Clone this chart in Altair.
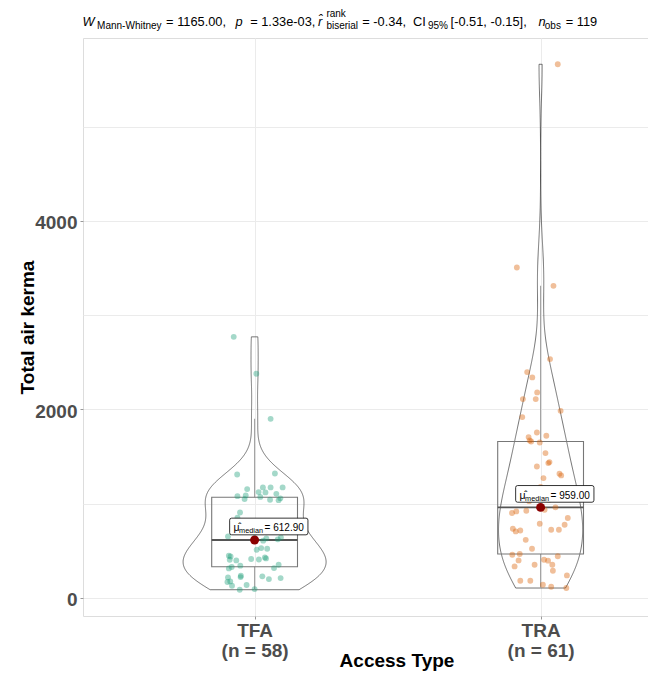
import altair as alt
import numpy as np
import pandas as pd

# ---------------- data ----------------
groups = ["TFA", "TRA"]
group_colors = ["#1B9E77", "#D95F02"]

tfa_values = [85, 92, 127, 135, 167, 173, 198, 209, 216, 219,
              227, 233, 311, 315, 326, 340, 350, 396, 403, 406,
              411, 417, 428, 438, 446, 509, 520, 527, 605.8, 620,
              630, 640, 651, 690, 720, 760, 800, 850, 905, 1036,
              1040, 1047, 1055, 1070, 1078, 1086, 1103, 1118, 1121, 1153,
              1171, 1171, 1171, 1308, 1319, 1899, 2377, 2769]
tfa_jitter = [-0.052, 0.0, -0.079, -0.028, -0.095, -0.085, 0.05, 0.091, -0.093, -0.049,
              0.027, -0.048, -0.09, 0.068, -0.08, -0.05, 0.084, -0.064, -0.087, 0.015,
              -0.012, 0.04, 0.036, -0.084, -0.09, 0.007, 0.044, 0.023, 0.03, 0.081,
              0.041, 0.092, -0.093, 0.0, -0.03, 0.05, 0.02, -0.06, -0.051, 0.084,
              0.054, -0.035, 0.09, 0.02, -0.06, -0.031, 0.076, 0.038, 0.014, -0.026,
              0.029, 0.056, 0.098, -0.061, 0.071, 0.056, 0.006, -0.073]

tra_values = [103, 117, 138, 180, 180, 237, 286, 332, 350, 350,
              393, 396, 403, 440, 456, 464, 520, 615, 704, 714,
              722, 722, 732, 775, 785, 846, 899, 916, 923, 934,
              959, 1025, 1040, 1075, 1110, 1150, 1175, 1270, 1298, 1316,
              1393, 1429, 1440, 1535, 1648, 1658, 1669, 1705, 1719, 1754,
              1917, 1984, 2108, 2108, 2179, 2338, 2395, 2533, 3310, 3505,
              5662]
tra_jitter = [0.09, 0.037, 0.008, -0.071, -0.036, 0.092, 0.043, -0.091, -0.021, 0.041,
              0.026, -0.077, 0.012, 0.06, -0.099, -0.073, -0.03, -0.052, -0.087, -0.071,
              0.037, 0.064, -0.097, 0.084, -0.003, 0.095, -0.1, -0.085, -0.05, 0.014,
              0.052, -0.04, 0.03, 0.1, -0.06, 0.06, 0.0, 0.01, 0.072, 0.066,
              -0.013, 0.027, 0.031, 0.017, -0.003, -0.033, -0.038, -0.042, 0.02, -0.013,
              -0.064, 0.07, -0.062, -0.017, -0.012, -0.029, -0.047, 0.033, 0.045, -0.083,
              0.06]

x_title = "Access Type"
y_title = "Total air kerma"
y_label_step = 2000
y_grid_step = 1000

FONT = "Liberation Sans"

# ---------------- tables built from the arrays ----------------
values_by_group = [tfa_values, tra_values]
jitter_by_group = [tfa_jitter, tra_jitter]

rows = []
for gi, (g, vals, jits) in enumerate(zip(groups, values_by_group, jitter_by_group)):
    for v, j in zip(vals, jits):
        rows.append({"group": g, "idx": gi + 1, "value": v, "jit": j})
pts = pd.DataFrame(rows)


def kde_nrd0(vals, n_grid=512):
    v = np.asarray(vals, float)
    n = len(v)
    sd = v.std(ddof=1)
    q75, q25 = np.percentile(v, [75, 25])
    bw = 0.9 * min(sd, (q75 - q25) / 1.34) * n ** -0.2
    grid = np.linspace(v.min(), v.max(), n_grid)
    dens = np.exp(-0.5 * ((grid[:, None] - v[None, :]) / bw) ** 2).sum(1) / (n * bw * np.sqrt(2 * np.pi))
    return grid, dens


vrows = []
for gi, (g, vals) in enumerate(zip(groups, values_by_group)):
    grid, dens = kde_nrd0(vals)
    m = len(grid)
    for i in range(m):
        vrows.append({"group": g, "idx": gi + 1, "value": grid[i], "density": dens[i], "side": -1, "ord": i})
    for i in range(m):
        vrows.append({"group": g, "idx": gi + 1, "value": grid[i], "density": dens[i], "side": 1, "ord": 2 * m - 1 - i})
    vrows.append({"group": g, "idx": gi + 1, "value": grid[0], "density": dens[0], "side": -1, "ord": 2 * m})
vio = pd.DataFrame(vrows)

all_vals = tfa_values + tra_values
rng = max(all_vals) - min(all_vals)
y_domain = [min(all_vals) - 0.05 * rng, max(all_vals) + 0.05 * rng]
W, H = 565, 578
x_domain = [0.4, 0.4 + W / 286.0]
y_ticks = list(range(0, int(y_domain[1]) + 1, y_grid_step))

n_labels = " : ".join(
    f"datum.value == {i + 1} ? ['{g}', '(n = {len(v)})']" for i, (g, v) in enumerate(zip(groups, values_by_group))
)
x_label_expr = n_labels + " : ''"

x_axis = alt.Axis(values=[1, 2], labelExpr=x_label_expr, labelFontSize=19, labelFontWeight="bold",
                  labelColor="#4D4D4D", labelLineHeight=20, labelPadding=2, labelFlush=False,
                  tickSize=3, tickColor="#999999", domain=False, grid=True, gridColor="#EBEBEB",
                  title=x_title, titleFontSize=19, titleFontWeight="bold", titleColor="black",
                  titleX=313.5, titleY=50, titleBaseline="alphabetic", titleAlign="center",
                  labelFont=FONT, titleFont=FONT)
y_axis = alt.Axis(values=y_ticks, format="d",
                  labelExpr=f"datum.value % {y_label_step} == 0 ? datum.label : ''",
                  tickOpacity={"condition": {"test": f"datum.value % {y_label_step} != 0", "value": 0}, "value": 1},
                  tickSize=3, tickColor="#999999", labelPadding=3, labelFontSize=19, labelFontWeight="bold",
                  labelColor="#4D4D4D", labelFlush=False, labelOffset=2, domain=False, grid=True,
                  gridColor="#EBEBEB", title=y_title, titleFontSize=19, titleFontWeight="bold",
                  titleColor="black", titleX=-50, titleY=H / 2, titleAngle=270, titleBaseline="alphabetic",
                  titleAlign="center", labelFont=FONT, titleFont=FONT)

xs = alt.Scale(domain=x_domain, nice=False, zero=False)
ys = alt.Scale(domain=y_domain, nice=False, zero=False)


def X(f):
    return alt.X(f"{f}:Q", scale=xs, axis=x_axis, title=x_title)


def Y(f):
    return alt.Y(f"{f}:Q", scale=ys, axis=y_axis, title=y_title)


# violins
violin = alt.Chart(vio).transform_joinaggregate(
    maxd="max(density)"
).transform_calculate(
    vx="datum.idx + datum.side * 0.25 * datum.density / datum.maxd"
).mark_line(color="#3a3a3a", strokeWidth=0.7).encode(
    x=X("vx"), y=Y("value"), detail="group:N", order="ord:Q"
)

# boxplot stats computed by Vega from the points
stats = alt.Chart(pts).transform_joinaggregate(
    q1="q1(value)", q3="q3(value)", med="median(value)", groupby=["group"]
).transform_calculate(
    lo="datum.q1 - 1.5 * (datum.q3 - datum.q1)",
    hi="datum.q3 + 1.5 * (datum.q3 - datum.q1)"
).transform_filter(
    "datum.value >= datum.lo && datum.value <= datum.hi"
).transform_aggregate(
    wlo="min(value)", whi="max(value)", q1="min(q1)", q3="min(q3)", med="min(med)",
    groupby=["group", "idx"]
).transform_calculate(
    bx1="datum.idx - 0.15", bx2="datum.idx + 0.15"
)

whisk_up = stats.mark_rule(color="#a0a0a0", strokeWidth=1.1).encode(x=X("idx"), y=Y("q3"), y2="whi:Q")
whisk_lo = stats.mark_rule(color="#a0a0a0", strokeWidth=1.1).encode(x=X("idx"), y=Y("wlo"), y2="q1:Q")
box = stats.mark_rect(fillOpacity=0, stroke="#777777", strokeWidth=1.1).encode(
    x=X("bx1"), x2="bx2:Q", y=Y("q1"), y2="q3:Q")
med_line = stats.mark_rule(color="#555555", strokeWidth=1.8).encode(x=X("bx1"), x2="bx2:Q", y=Y("med"))

points = alt.Chart(pts).transform_calculate(
    xj="datum.idx + datum.jit"
).mark_circle(size=34, opacity=0.4).encode(
    x=X("xj"), y=Y("value"),
    color=alt.Color("group:N", scale=alt.Scale(domain=groups, range=group_colors), legend=None)
)

meds = alt.Chart(pts).transform_aggregate(med="median(value)", groupby=["group", "idx"])
med_dot = meds.mark_circle(size=80, color="#8B0000", opacity=1).encode(x=X("idx"), y=Y("med"))

label_path = ("M-0.949,-0.213 L0.949,-0.213 Q1,-0.213 1,-0.162 L1,0.162 Q1,0.213 0.949,0.213 "
              "L-0.949,0.213 Q-1,0.213 -1,0.162 L-1,-0.162 Q-1,-0.213 -0.949,-0.213 Z")
label_box = meds.mark_point(shape=label_path, size=6131, filled=True, fill="white", fillOpacity=1,
                            stroke="black", strokeWidth=0.8, opacity=1, xOffset=14.2, yOffset=-13.5).encode(
    x=X("idx"), y=Y("med"))
label_mu = meds.mark_text(text="\u03bc\u0302", align="left", baseline="alphabetic", dx=-21, dy=-8.5,
                          fontSize=10.5, font=FONT, color="black").encode(x=X("idx"), y=Y("med"))
label_sub = meds.mark_text(text="median", align="left", baseline="alphabetic", dx=-15.5, dy=-6.5,
                           fontSize=7.3, font=FONT, color="black").encode(x=X("idx"), y=Y("med"))
label_val = meds.transform_calculate(
    lab="'= ' + format(datum.med, '.2f')"
).mark_text(align="left", baseline="alphabetic", dx=10, dy=-8.5, fontSize=10, font=FONT,
            color="black").encode(x=X("idx"), y=Y("med"), text="lab:N")

# subtitle (plotmath-like pieces)
one = pd.DataFrame({"k": [0]})
MAIN, SUB = 12.8, 10
sub_pieces = [
    ("W", -0.6, -12, MAIN, "italic"),
    ("Mann-Whitney", 14.1, -9.5, SUB, "normal"),
    ("= 1165.00,", 83.1, -12, MAIN, "normal"),
    ("p", 152.6, -12, MAIN, "italic"),
    ("= 1.33e-03,", 167.2, -12, MAIN, "normal"),
    ("r\u0302", 235.0, -12, MAIN, "italic"),
    ("rank", 243.4, -21.3, SUB, "normal"),
    ("biserial", 243.4, -9.5, SUB, "normal"),
    ("= -0.34,", 279.3, -12, MAIN, "normal"),
    ("CI", 330.0, -12, MAIN, "normal"),
    ("95%", 345.0, -9.5, SUB, "normal"),
    ("[-0.51, -0.15],", 367.6, -12, MAIN, "normal"),
    ("n", 455.5, -12, MAIN, "italic"),
    ("obs", 461.8, -9.5, SUB, "normal"),
    ("= 119", 482.7, -12, MAIN, "normal"),
]
subtitle_layers = [
    alt.Chart(one).mark_text(text=t, align="left", baseline="alphabetic", fontSize=s, fontStyle=st,
                             font=FONT, color="black").encode(x=alt.value(x), y=alt.value(y))
    for (t, x, y, s, st) in sub_pieces
]

chart = alt.layer(
    violin, whisk_up, whisk_lo, box, med_line, points, med_dot,
    label_box, label_mu, label_sub, label_val, *subtitle_layers
).properties(
    width=W, height=H,
    padding={"left": 75, "top": 30, "right": 0, "bottom": 55},
    autosize=alt.AutoSizeParams(type="none"),
).configure_view(strokeWidth=0).configure(font=FONT)

chart.save("out.html", embed_options={"renderer": "svg", "actions": False})
